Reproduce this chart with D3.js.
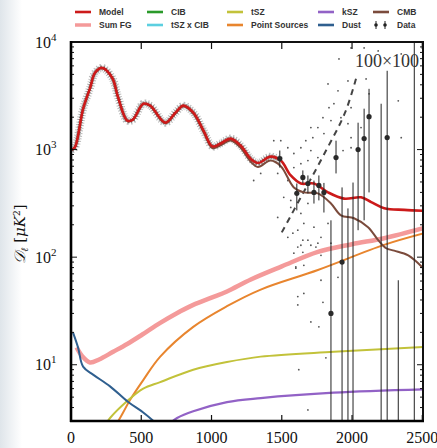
<!DOCTYPE html>
<html><head><meta charset="utf-8">
<script src="https://cdn.jsdelivr.net/npm/d3@7"></script>
<style>body{margin:0;background:#fff}svg{display:block}</style>
</head><body>
<svg id="c" width="437" height="448"></svg>
<script>
// ---------- data ----------
const xTicks = [0, 500, 1000, 1500, 2000, 2500];
const yTicks = [10, 100, 1000, 10000];
const yTickExp = ["1", "2", "3", "4"];

const legendNames = ["Model", "Sum FG", "CIB", "tSZ x CIB", "tSZ", "Point Sources", "kSZ", "Dust", "CMB", "Data"];

const modelL = [7, 28, 86, 136, 171, 221, 293, 336, 400, 440, 514, 564, 671, 743, 800, 871, 943, 1007, 1064, 1136, 1207, 1279, 1330, 1420, 1493, 1564, 1636, 1729, 1829, 1943, 2064, 2136, 2229, 2371, 2514];
const modelD = [1000, 1050, 2390, 3750, 5170, 5750, 4650, 3030, 1860, 1900, 2670, 2560, 1780, 2200, 2560, 2200, 1500, 1070, 1140, 1265, 1090, 820, 750, 860, 790, 575, 484, 484, 400, 350, 360, 325, 285, 275, 270];

const cmbL = [7, 28, 86, 136, 171, 221, 293, 336, 400, 440, 514, 564, 671, 743, 800, 871, 943, 1007, 1064, 1136, 1207, 1279, 1330, 1420, 1493, 1586, 1657, 1757, 1850, 1921, 2014, 2114, 2186, 2243, 2300, 2400, 2507];
const cmbD = [1000, 1050, 2380, 3740, 5160, 5740, 4640, 3015, 1845, 1885, 2650, 2540, 1755, 2170, 2525, 2165, 1465, 1030, 1095, 1215, 1040, 770, 690, 790, 700, 445, 400, 392, 316, 245, 230, 190, 144, 121, 115, 104, 79];

const sumFgL = [40, 80, 135, 200, 300, 400, 500, 635, 750, 870, 1000, 1110, 1280, 1500, 1757, 2000, 2228, 2507];
const sumFgD = [14.5, 12, 10.5, 11.2, 13.2, 15.6, 18.8, 24.5, 30, 36, 42, 48, 62, 82, 112, 132, 150, 186];

const dustL = [14, 50, 86, 157, 278, 407, 514, 600];
const dustD = [20, 14.5, 9.6, 8.1, 6.3, 4.5, 3.6, 2.9];

const psL = [330, 371, 420, 514, 635, 870, 1110, 1350, 1757, 2228, 2507];
const psD = [2.9, 3.6, 4.7, 7.2, 11.9, 22.5, 35, 50, 76, 130, 166];

const tszL = [255, 278, 400, 514, 635, 870, 1110, 1350, 1870, 2507];
const tszD = [2.9, 3.2, 4.6, 6.0, 6.9, 9.0, 10.6, 11.9, 13.2, 14.6];

const kszL = [710, 755, 870, 1110, 1350, 1870, 2507];
const kszD = [2.9, 3.2, 3.7, 4.5, 4.9, 5.5, 5.9];

// 100x100 noise-like dashed curve
const dashL = [1500, 1650, 1800, 1950, 2030];
const dashD = [170, 390, 900, 2200, 4640];

// binned data points (null centre = below plot; null low = bar runs off the bottom)
const binL  = [1486, 1607, 1650, 1686, 1729, 1764, 1800, 1850, 1886, 1929, 1971, 2007, 2043, 2086, 2121, 2207, 2250, 2329, 2443];
const binD  = [826, 392, 551, 484, 400, 464, 400, 30, 843, 90, null, null, 1000, 1265, 2023, null, 1292, null, null];
const binHi = [980, 484, 640, 575, 515, 575, 490, 220, 1210, 445, 284, 494, 1778, 2400, 3670, 2667, 5400, 61, 20000];
const binLo = [680, 272, 484, 392, 315, 337, 260, null, 600, null, null, null, 178, 220, 400, null, null, null, null];

// scattered 100x100 spectrum points
const scatL = [1907, 1993, 2086, 2186, 2350, 2400, 1829, 1900, 1971, 2100, 2121, 1993, 1871, 1836, 1793, 1850, 1921, 1971, 1757, 1707, 1671, 1721, 1800, 1993, 2064, 2329, 2350, 1993, 1707, 1636, 1586, 1543, 1493, 1686, 1636, 1757, 1936, 1300, 1350, 1443, 1471, 1543, 1586, 1514, 1564, 1636, 1686, 1471, 1543, 1614, 1686, 1729, 1779, 1829, 1657, 1564, 1579, 1650, 1757, 1614, 1586, 1657, 1600, 1779, 1657, 1614, 1614, 1793, 1707, 1764, 1814, 1621, 1900, 1850, 1636, 1707, 1743, 1650, 1779, 1657, 1600, 1686];
const scatD = [6960, 8800, 8800, 8260, 7740, 6260, 4080, 3520, 4350, 4540, 3300, 2450, 2670, 2450, 1980, 1860, 1980, 1740, 1600, 1600, 1210, 1290, 1410, 1290, 1600, 2840, 1290, 1040, 980, 1040, 920, 1040, 1210, 790, 740, 843, 980, 516, 600, 1210, 600, 516, 680, 360, 290, 255, 316, 234, 153, 178, 144, 190, 153, 206, 206, 337, 167, 144, 135, 124, 109, 100, 81, 61, 46, 43, 36, 38, 25, 22.5, 11.6, 9.0, 65, 135, 129, 129, 124, 111, 104, 84, 79, 3.8];

// ---------- layout ----------
const svg = d3.select("#c");
const L = 71, R = 423, T = 42, B = 421;
const x = d3.scaleLinear().domain([0, 2505]).range([L, R]);
const y = d3.scaleLog().domain([3.0, 10000]).range([B, T]);

// left slide-background strip
const defs = svg.append("defs");
const g0 = defs.append("linearGradient").attr("id", "bg").attr("x1", 0).attr("x2", 1);
g0.append("stop").attr("offset", 0).attr("stop-color", "#dfe5ea");
g0.append("stop").attr("offset", 1).attr("stop-color", "#ffffff");
svg.append("rect").attr("x", 0).attr("y", 0).attr("width", 22).attr("height", 448).attr("fill", "url(#bg)");

defs.append("clipPath").attr("id", "clip").append("rect")
  .attr("x", L).attr("y", T).attr("width", R - L).attr("height", B - T);

const plot = svg.append("g").attr("clip-path", "url(#clip)");
const line = d3.line().x(d => x(d[0])).y(d => y(d[1])).curve(d3.curveCatmullRom.alpha(0.5));
const zip = (a, b) => a.map((v, i) => [v, b[i]]);

// gray band of the 100x100 spectrum along the model at low ell
const bandPts = zip(modelL, modelD).filter(d => d[0] <= 1500);
plot.append("path").attr("d", line(bandPts)).attr("fill", "none")
  .attr("stroke", "#777").attr("stroke-width", 8).attr("stroke-dasharray", "1,1.6").attr("opacity", 0.5);
plot.append("path").attr("d", line(bandPts)).attr("fill", "none")
  .attr("stroke", "#444").attr("stroke-width", 4.5).attr("stroke-dasharray", "1.2,1.2").attr("opacity", 0.6);

// scatter
plot.selectAll("circle.sc").data(zip(scatL, scatD)).enter().append("circle")
  .attr("cx", d => x(d[0])).attr("cy", d => y(d[1])).attr("r", 0.9).attr("fill", "#555");

// dashed curve
plot.append("path").attr("d", line(zip(dashL, dashD))).attr("fill", "none")
  .attr("stroke", "#444").attr("stroke-width", 2).attr("stroke-dasharray", "6,5");

// model components
const curves = [
  [sumFgL, sumFgD, "#f49a9a", 4.5],
  [psL, psD, "#e8852e", 2],
  [tszL, tszD, "#c2c23a", 2],
  [kszL, kszD, "#9262c6", 2.2],
  [dustL, dustD, "#2f5f8f", 2],
  [cmbL, cmbD, "#7b4b3c", 2],
  [modelL, modelD, "#cc1a1a", 2.6]
];
curves.forEach(([lx, ly, col, w]) => {
  plot.append("path").attr("d", line(zip(lx, ly))).attr("fill", "none")
    .attr("stroke", col).attr("stroke-width", w).attr("stroke-linejoin", "round");
});

// binned data with error bars
const bins = binL.map((l, i) => ({l, d: binD[i], hi: binHi[i], lo: binLo[i]}));
plot.selectAll("line.eb").data(bins).enter().append("line")
  .attr("x1", d => x(d.l)).attr("x2", d => x(d.l))
  .attr("y1", d => y(Math.min(d.hi, 10000)) - (d.hi > 10000 ? 5 : 0))
  .attr("y2", d => d.lo == null ? B + 5 : y(d.lo))
  .attr("stroke", "#222").attr("stroke-width", 1);
plot.selectAll("circle.pt").data(bins.filter(d => d.d != null)).enter().append("circle")
  .attr("cx", d => x(d.l)).attr("cy", d => y(d.d)).attr("r", 2.6).attr("fill", "#2a2a2a");

// 100x100 label
svg.append("text").attr("x", 387).attr("y", 67).attr("text-anchor", "middle")
  .attr("font-family", "Liberation Serif, DejaVu Serif, serif").attr("font-size", 18).attr("fill", "#333")
  .text("100×100");

// ---------- axes & frame ----------
const ax = svg.append("g").attr("stroke", "#111");
const minors = [];
for (let e = 0; e <= 3; e++) for (let m = 1; m <= 9; m++) {
  const v = m * Math.pow(10, e);
  if (v >= 3.0 && v <= 10000) minors.push(v);
}
minors.forEach(v => {
  const major = (v === 10 || v === 100 || v === 1000);
  const len = major ? 6 : 3;
  const yy = y(v);
  ax.append("line").attr("x1", L).attr("x2", L + len).attr("y1", yy).attr("y2", yy).attr("stroke-width", 1);
  ax.append("line").attr("x1", R).attr("x2", R - len).attr("y1", yy).attr("y2", yy).attr("stroke-width", 1);
});
xTicks.forEach(v => {
  const xx = x(v);
  ax.append("line").attr("x1", xx).attr("x2", xx).attr("y1", B).attr("y2", B - 6).attr("stroke-width", 1.2);
  ax.append("line").attr("x1", xx).attr("x2", xx).attr("y1", T).attr("y2", T + 7).attr("stroke-width", 1.2);
});
svg.append("rect").attr("x", L).attr("y", T).attr("width", R - L).attr("height", B - T)
  .attr("fill", "none").attr("stroke", "#111").attr("stroke-width", 2);
svg.append("line").attr("x1", L).attr("x2", L).attr("y1", T - 1).attr("y2", B + 1).attr("stroke", "#000").attr("stroke-width", 2.6);
svg.append("line").attr("x1", L - 1).attr("x2", R + 1).attr("y1", B).attr("y2", B).attr("stroke", "#000").attr("stroke-width", 2.6);

// x tick labels
svg.selectAll("text.xt").data(xTicks).enter().append("text")
  .attr("x", d => x(d)).attr("y", 443).attr("text-anchor", "middle")
  .attr("font-family", "Liberation Serif, DejaVu Serif, serif").attr("font-size", 16).attr("fill", "#111")
  .text(d => d);

// y tick labels
yTicks.forEach((v, i) => {
  const t = svg.append("text").attr("x", 35).attr("y", y(v) + 5.5)
    .attr("font-family", "Liberation Serif, DejaVu Serif, serif").attr("font-size", 16).attr("fill", "#111");
  t.append("tspan").text("10");
  t.append("tspan").attr("dy", -7).attr("font-size", 11).text(yTickExp[i]);
});

// y axis title
const yt = svg.append("text").attr("transform", "translate(25,234) rotate(-90)").attr("text-anchor", "middle")
  .attr("font-family", "DejaVu Serif, Liberation Serif, serif").attr("font-size", 15).attr("fill", "#111");
yt.append("tspan").attr("font-style", "italic").text("𝒟");
yt.append("tspan").attr("font-size", 10).attr("dy", 3).attr("font-style", "italic").text("ℓ");
yt.append("tspan").attr("dy", -3).text("  [");
yt.append("tspan").attr("font-style", "italic").text("μK");
yt.append("tspan").attr("font-size", 9).attr("dy", -5).text("2");
yt.append("tspan").attr("dy", 5).text("]");

// ---------- legend ----------
const legCols = ["#cc1a1a", "#f49a9a", "#2a9a2a", "#5ccfe0", "#c2c23a", "#e8852e", "#9262c6", "#2f5f8f", "#7b4b3c", null];
const legX = [75, 147, 227, 318, 373];
const legY = [12, 25];
const leg = svg.append("g");
legendNames.forEach((name, i) => {
  const col = Math.floor(i / 2), row = i % 2;
  const lx = legX[col], ly = legY[row];
  if (legCols[i]) {
    leg.append("line").attr("x1", lx).attr("x2", lx + 16).attr("y1", ly).attr("y2", ly)
      .attr("stroke", legCols[i]).attr("stroke-width", i === 1 ? 3.5 : 2.6);
  } else {
    [lx + 3, lx + 12].forEach(px => {
      leg.append("line").attr("x1", px).attr("x2", px).attr("y1", ly - 4).attr("y2", ly + 4).attr("stroke", "#222").attr("stroke-width", 1);
      leg.append("circle").attr("cx", px).attr("cy", ly).attr("r", 1.8).attr("fill", "#222");
    });
  }
  leg.append("text").attr("x", lx + 24).attr("y", ly + 3).attr("font-family", "Liberation Sans, Arial, sans-serif")
    .attr("font-size", 8.5).attr("font-weight", "bold").attr("fill", "#333").text(name);
});
</script>
</body></html>
